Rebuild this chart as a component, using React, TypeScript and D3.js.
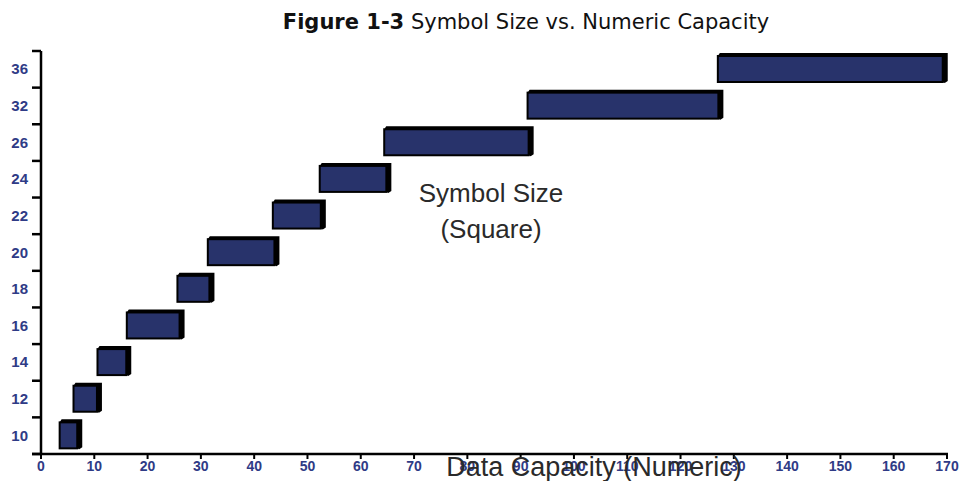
import React, { useEffect, useRef } from 'react';
import * as d3 from 'd3';

// symbol sizes (square), bottom to top
const sizes = ['10', '12', '14', '16', '18', '20', '22', '24', '26', '32', '36'];
// numeric capacity range covered by each symbol size
const rangeStart = [3.5, 6.1, 10.6, 16.1, 25.6, 31.3, 43.5, 52.3, 64.4, 91.3, 127];
const rangeEnd = [6.8, 10.5, 16, 26, 31.6, 43.8, 52.5, 64.8, 91.5, 127.1, 169.2];
const xTicks = [0, 10, 20, 30, 40, 50, 60, 70, 80, 90, 100, 110, 120, 130, 140, 150, 160, 170];

const W = 959;
const H = 481;
const tickColor = '#2f3b86';
const barColor = '#28336b';

export default function App() {
  const ref = useRef<SVGSVGElement>(null);

  useEffect(() => {
    const svg = d3.select(ref.current);
    svg.selectAll('*').remove();

    const x = d3.scaleLinear().domain([0, 170]).range([41, 947]);
    const y = d3.scaleBand().domain([...sizes].reverse()).range([51, 454]).padding(0);
    const bw = y.bandwidth();

    // title
    const title = svg.append('text')
      .attr('x', 526)
      .attr('y', 29)
      .attr('text-anchor', 'middle')
      .attr('font-family', 'DejaVu Sans, Verdana, sans-serif')
      .attr('font-size', 21)
      .attr('fill', '#111');
    title.append('tspan').attr('font-weight', 'bold').text('Figure 1-3');
    title.append('tspan').text(' Symbol Size vs. Numeric Capacity');

    // bars (3D look)
    const data = sizes.map((s, i) => ({ s, a: rangeStart[i], b: rangeEnd[i] }));
    const dx = 5;
    const dy = 3;
    const g = svg.append('g');
    data.forEach((d) => {
      const x0 = x(d.a);
      const x1 = x(d.b);
      const y0 = (y(d.s) as number) + 5;
      const y1 = y0 + 26;
      g.append('path')
        .attr('d', `M${x0},${y0} L${x0 + 2},${y0 - dy} L${x1 + dx},${y0 - dy} L${x1 + dx},${y1 - 1} L${x1 + 2},${y1 + 1} L${x1},${y1} Z`)
        .attr('fill', '#000');
      g.append('rect')
        .attr('x', x0)
        .attr('y', y0)
        .attr('width', x1 - x0)
        .attr('height', y1 - y0)
        .attr('fill', barColor)
        .attr('stroke', '#000')
        .attr('stroke-width', 2);
    });

    // y axis
    svg.append('line')
      .attr('x1', 41).attr('x2', 41).attr('y1', 51).attr('y2', 455)
      .attr('stroke', '#000').attr('stroke-width', 2.5);
    const yBounds = [...y.domain().map((s) => y(s) as number), 454];
    svg.append('g').selectAll('line').data(yBounds).enter().append('line')
      .attr('x1', 32).attr('x2', 41)
      .attr('y1', (d) => d).attr('y2', (d) => d)
      .attr('stroke', '#000').attr('stroke-width', 2.5);
    svg.append('g').selectAll('text').data(sizes).enter().append('text')
      .attr('x', 28)
      .attr('y', (d) => (y(d) as number) + bw / 2 + 5)
      .attr('text-anchor', 'end')
      .attr('font-family', 'Liberation Sans, Arial, sans-serif')
      .attr('font-weight', 'bold')
      .attr('font-size', 15)
      .attr('fill', tickColor)
      .text((d) => d);

    // x axis
    svg.append('line')
      .attr('x1', 32).attr('x2', 948).attr('y1', 454).attr('y2', 454)
      .attr('stroke', '#000').attr('stroke-width', 2.5);
    svg.append('g').selectAll('line').data(xTicks).enter().append('line')
      .attr('x1', (d) => x(d)).attr('x2', (d) => x(d))
      .attr('y1', 454).attr('y2', 459)
      .attr('stroke', '#000').attr('stroke-width', 2);
    svg.append('g').selectAll('text').data(xTicks).enter().append('text')
      .attr('x', (d) => x(d))
      .attr('y', 471)
      .attr('text-anchor', 'middle')
      .attr('font-family', 'Liberation Sans, Arial, sans-serif')
      .attr('font-weight', 'bold')
      .attr('font-size', 14)
      .attr('fill', tickColor)
      .text((d) => d);

    // axis titles
    svg.append('text')
      .attr('x', 594)
      .attr('y', 476)
      .attr('text-anchor', 'middle')
      .attr('font-family', 'Liberation Sans, Arial, sans-serif')
      .attr('font-size', 27)
      .attr('fill', '#2a2a2a')
      .text('Data Capacity (Numeric)');
    const yt = svg.append('text')
      .attr('text-anchor', 'middle')
      .attr('font-family', 'Liberation Sans, Arial, sans-serif')
      .attr('font-size', 26)
      .attr('fill', '#2a2a2a');
    yt.append('tspan').attr('x', 491).attr('y', 202).text('Symbol Size');
    yt.append('tspan').attr('x', 491).attr('y', 238).text('(Square)');
  }, []);

  return (
    <svg
      ref={ref}
      width={W}
      height={H}
      style={{ position: 'absolute', left: 0, top: 0, background: '#fff' }}
    />
  );
}
